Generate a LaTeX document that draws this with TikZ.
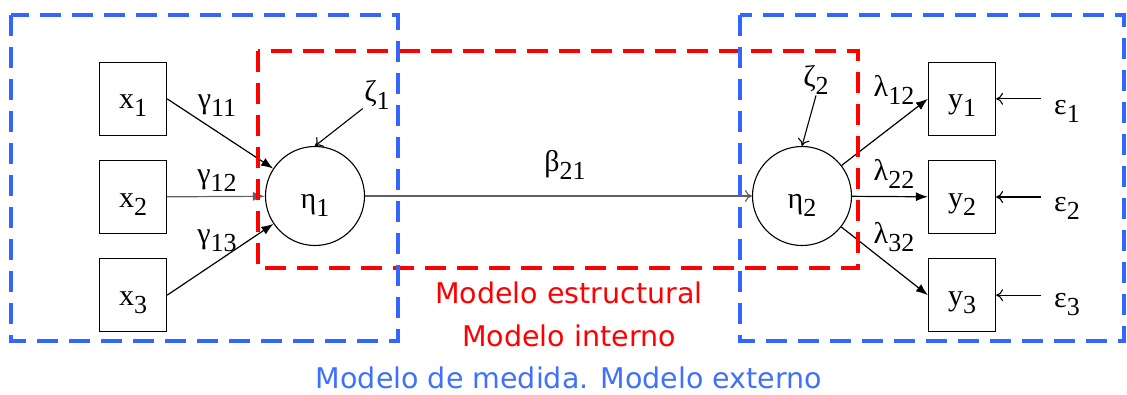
\documentclass[tikz,border=0pt]{standalone}
\usepackage{fontspec}
\setmainfont{Liberation Serif}
\newfontfamily\labelsans{DejaVu Sans}
\usetikzlibrary{arrows.meta,positioning}
\definecolor{SEMBlue}{HTML}{3366FF}
\definecolor{SEMText}{HTML}{4070FF}
\definecolor{SEMRed}{HTML}{FF0000}
\definecolor{SEMGray}{HTML}{606060}
\newcommand{\sub}[1]{\raisebox{-8pt}{\fontsize{26}{26}\selectfont #1}}

\begin{document}
\begin{tikzpicture}[
        x=1pt,y=-1pt,
        node distance=24pt,
        every node/.style={font=\fontsize{30}{36}\selectfont},
        obs/.style={draw,line width=1.2pt,minimum width=67pt,minimum height=73pt,inner sep=0pt,text height=20pt,text depth=0pt},
        latent/.style={circle,draw,line width=1.1pt,minimum size=99pt,inner sep=0pt,text height=24pt,text depth=0pt},
        coef/.style={anchor=base},
        path/.style={-{Latex[length=12pt,width=9pt]},line width=1.2pt},
        errpath/.style={-{To[length=7pt,width=12pt]},line width=1.1pt},
        group/.style={dash pattern=on 21pt off 11pt,line width=4.5pt},
        caption/.style={font=\labelsans\fontsize{28.5}{32}\selectfont}
      ]
      \useasboundingbox (0,0) rectangle (1127,394);

      % observed and latent variables
      \node[obs] (x2) at (133,197) {x\sub{2}};
      \node[obs,above=of x2] (x1) {x\sub{1}};
      \node[obs,below=of x2] (x3) {x\sub{3}};
      \node[latent] (eta1) at (315,196) {η\sub{1}};
      \node[latent] (eta2) at (802,196) {η\sub{2}};
      \node[obs] (y2) at (962,197) {y\sub{2}};
      \node[obs,above=of y2] (y1) {y\sub{1}};
      \node[obs,below=of y2] (y3) {y\sub{3}};

      % disturbances and errors
      \node[coef] (zeta1) at (377,101) {ζ\sub{1}};
      \node[coef] (zeta2) at (816,86) {ζ\sub{2}};
      \node[coef] (eps1) at (1067,114) {ε\sub{1}};
      \node[coef] (eps2) at (1067,211) {ε\sub{2}};
      \node[coef] (eps3) at (1067,307) {ε\sub{3}};

      % coefficients
      \node[coef] at (217,108) {γ\sub{11}};
      \node[coef] at (217,183) {γ\sub{12}};
      \node[coef] at (217,243) {γ\sub{13}};
      \node[coef] at (565,171) {β\sub{21}};
      \node[coef] at (894,96) {λ\sub{12}};
      \node[coef] at (894,180) {λ\sub{22}};
      \node[coef] at (894,243) {λ\sub{32}};

      \draw[path] (x1.east) -- (eta1);
      \draw[path,draw=SEMGray] (x2) -- (eta1);
      \draw[path] (x3.east) -- (eta1);
      \draw[errpath] (zeta1.south west) ++(2,-4) -- (eta1.north);
      \draw[errpath,draw=SEMGray] (eta1) -- (eta2);
      \draw[errpath] (zeta2.south) ++(0,-2) -- (eta2.north);
      \draw[path] (eta2) -- (y1.west);
      \draw[path] (eta2) -- (y2);
      \draw[path] (eta2) -- (y3.west);
      \draw[errpath,shorten <=10pt] (y1.east -| eps1.west) -- (y1.east);
      \draw[errpath,shorten <=10pt] (y2.east -| eps2.west) -- (y2.east);
      \draw[errpath,shorten <=10pt] (y3.east -| eps3.west) -- (y3.east);

      % inner and outer models
      \draw[group,draw=SEMRed] (258,51) rectangle (858,268);
      \draw[group,draw=SEMBlue] (11,15) rectangle (398,341);
      \draw[group,draw=SEMBlue] (740,15) rectangle (1124,341);

      \node[caption,text=SEMRed] (inner1) at (569,293) {Modelo estructural};
      \node[caption,text=SEMRed] (inner2) at (569,336) {Modelo interno};
      \node[caption,text=SEMText] (outer) at (569,378) {Modelo de medida. Modelo externo};
    \end{tikzpicture}
\end{document}
